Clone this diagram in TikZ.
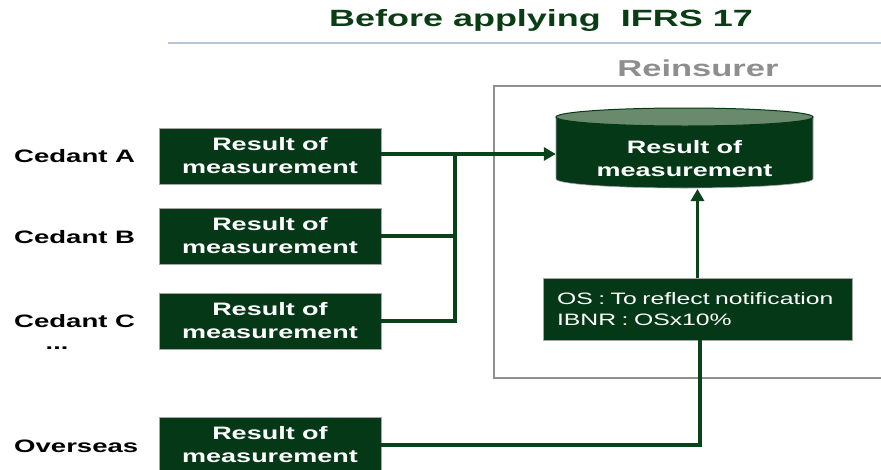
\documentclass[tikz,border=0pt]{standalone}
\usepackage{fontspec}
\setmainfont{Liberation Sans}
\newfontfamily\wide{Liberation Sans}[FakeStretch=1.5]
\newfontfamily\wider{Liberation Sans}[FakeStretch=1.53]
\usetikzlibrary{arrows.meta}
\definecolor{boxgreen}{HTML}{053816}
\definecolor{topgreen}{HTML}{6A8A6E}
\definecolor{linegreen}{HTML}{0A4319}
\definecolor{titlegreen}{HTML}{0B3D15}
\definecolor{rulegrey}{HTML}{B9C6D8}
\definecolor{framegrey}{HTML}{8E8E8E}
\tikzset{
  resultbox/.style={fill=boxgreen, draw=gray!70, line width=0.6pt,
    minimum width=222pt, minimum height=56pt, inner sep=0pt,
    text=white, align=center, font=\wide\bfseries\fontsize{18}{23}\selectfont},
  cedant/.style={anchor=west, inner sep=0pt, font=\wider\bfseries\fontsize{18}{22}\selectfont},
  link/.style={draw=linegreen, line width=3.4pt},
  tip/.style={-{Triangle[length=12pt,width=13pt]}},
}
\begin{document}
\begin{tikzpicture}[x=1pt,y=-1pt]
\useasboundingbox (0,0) rectangle (881,469);
\fill[white] (0,0) rectangle (881,469);

% heading and rule
\node[text=titlegreen, font=\wider\bfseries\fontsize{23.5}{26}\selectfont] (title) at (541,20) {Before applying\ \ IFRS 17};
\draw[rulegrey, line width=1.2pt] (168,43) -- (881,43);

% reinsurer frame
\node[text=framegrey, font=\wide\bfseries\fontsize{23}{26}\selectfont] (reins) at (698,68) {Reinsurer};
\draw[framegrey, line width=1.6pt] (895,86) -- (494,86) -- (494,378) -- (895,378);

% cedant side
\node[cedant] (la) at (14,156) {Cedant A};
\node[cedant] (lb) at (14,237) {Cedant B};
\node[cedant] (lc) at (14,321) {Cedant C};
\node[inner sep=0pt, font=\wide\bfseries\fontsize{18}{22}\selectfont] (dots) at (57,348) {...};
\node[cedant] (lo) at (14,446) {Overseas};

\node[resultbox] (ra) at (270,156) {Result of\\measurement};
\node[resultbox] (rb) at (270,236) {Result of\\measurement};
\node[resultbox] (rc) at (270,321) {Result of\\measurement};
\node[resultbox] (ro) at (270,445) {Result of\\measurement};

% reinsurer storage (cylinder)
\fill[boxgreen] (556,117) -- (556,179) arc(180:0:128.5 and 9) -- (813,117) -- cycle;
\draw[gray!70, line width=0.6pt] (556,117) -- (556,179) arc(180:0:128.5 and 9) -- (813,117);
\draw[fill=topgreen, draw=boxgreen, line width=1pt] (684.5,117) ellipse (128.5 and 9);
\node[text=white, align=center, inner sep=0pt, minimum width=257pt, minimum height=58pt,
  font=\wide\bfseries\fontsize{18}{23}\selectfont] (cyl) at (684.5,159) {Result of\\measurement};

% reserve basis
\node[fill=boxgreen, draw=gray!70, line width=0.6pt, minimum width=309pt, minimum height=62pt,
  text=white, align=left, inner sep=0pt, text width=281pt,
  font=\wide\fontsize{16.5}{21}\selectfont] (os) at (697.5,309) {\raisebox{-2pt}{OS : To reflect notification}\\\raisebox{-2pt}{IBNR : OSx10\%}};

% connectors
\coordinate (j) at (455,154);
\draw[link, tip] (ra.east |- j) -- (cyl.west |- j);
\draw[link] (rb.east) -- (rb.east -| j);
\draw[link] (rc.east) -| (j);
\draw[link, tip] (os.north) -- (os.north |- 0,189);
\draw[link] (ro.east) -| ([xshift=2.5pt]os.south);
\end{tikzpicture}
\end{document}
